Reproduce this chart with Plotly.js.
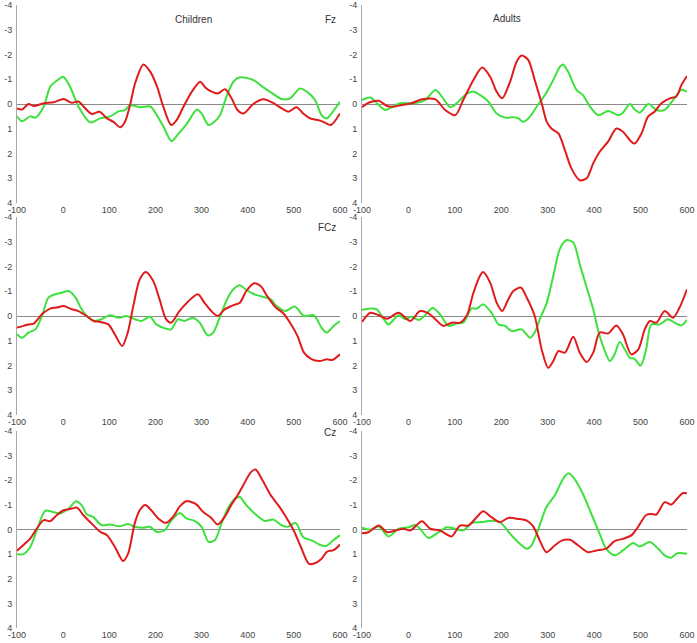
<!DOCTYPE html>
<html>
<head>
<meta charset="utf-8">
<script src="https://cdn.plot.ly/plotly-3.0.1.min.js"></script>
<style>
  html, body { margin: 0; padding: 0; background: #fff; }
  #plotDiv { width: 697px; height: 643px; }
</style>
</head>
<body>
<div id="plotDiv"></div>
<script>
// time axis (ms) and amplitude ticks
var xTickVals = [-100, 0, 100, 200, 300, 400, 500, 600];
var yTickVals = [-4, -3, -2, -1, 0, 1, 2, 3, 4];
var groupNames = ['Children', 'Adults'];
var channelNames = ['Fz', 'FCz', 'Cz'];

// Children Fz
var childFzGreenT = [-100, -89, -71, -60, -42, -28, -13, 0, 15, 33, 59, 80, 102, 120, 134, 145, 167, 189, 203, 217, 235, 250, 268, 290, 300, 315, 329, 340, 354, 369, 383, 412, 434, 456, 474, 492, 513, 528, 546, 560, 571, 585, 600];
var childFzGreenV = [0.5, 0.7, 0.5, 0.55, 0.1, -0.7, -0.95, -1.1, -0.7, 0.1, 0.75, 0.58, 0.5, 0.3, 0.25, 0.05, 0.13, 0.1, 0.45, 0.9, 1.5, 1.2, 0.8, 0.22, 0.38, 0.85, 0.7, 0.45, -0.3, -0.9, -1.08, -0.97, -0.67, -0.4, -0.2, -0.23, -0.63, -0.5, -0.16, 0.45, 0.58, 0.3, -0.1];
var childFzRedT = [-100, -89, -75, -64, -42, -21, 1, 19, 33, 48, 62, 79, 95, 109, 124, 134, 145, 156, 174, 189, 203, 217, 234, 246, 261, 279, 297, 308, 322, 336, 351, 365, 378, 391, 412, 434, 456, 474, 488, 506, 520, 535, 557, 567, 580, 600];
var childFzRedV = [0.18, 0.22, 0.0, 0.08, -0.03, -0.07, -0.2, -0.05, -0.1, 0.18, 0.4, 0.31, 0.58, 0.72, 0.94, 0.72, 0.04, -0.84, -1.6, -1.3, -0.73, 0.1, 0.85, 0.65, 0.1, -0.5, -0.9, -0.67, -0.5, -0.43, -0.6, -0.23, 0.24, 0.38, 0, -0.19, -0.03, 0.18, 0.31, 0.13, 0.38, 0.58, 0.67, 0.75, 0.85, 0.38];

// Adults Fz
var adultFzGreenT = [-100, -82, -68, -50, -36, -18, 0, 18, 36, 58, 72, 90, 104, 122, 140, 158, 172, 190, 208, 226, 237, 247, 262, 276, 294, 312, 326, 333, 344, 362, 376, 391, 409, 430, 452, 462, 477, 487, 498, 517, 534, 552, 570, 588, 600];
var adultFzGreenV = [-0.16, -0.26, -0.03, 0.24, 0.13, -0.03, -0.03, -0.05, -0.16, -0.57, -0.3, 0.13, -0.03, -0.36, -0.5, -0.32, -0.1, 0.38, 0.55, 0.54, 0.58, 0.72, 0.51, 0.11, -0.36, -0.97, -1.5, -1.6, -1.3, -0.57, -0.36, 0.11, 0.45, 0.28, 0.45, 0.35, 0, 0.22, 0.35, 0, 0.24, 0.24, -0.16, -0.57, -0.5];
var adultFzRedT = [-100, -86, -64, -46, -32, -14, 7, 29, 58, 79, 101, 118, 140, 159, 176, 190, 202, 219, 233, 244, 258, 272, 287, 298, 308, 323, 337, 351, 369, 384, 398, 412, 430, 448, 462, 480, 487, 502, 516, 530, 545, 563, 577, 588, 600];
var adultFzRedV = [0.13, -0.05, -0.13, 0.08, 0.11, 0.04, -0.03, -0.19, -0.19, 0.24, 0.45, -0.16, -0.97, -1.47, -1.1, -0.5, -0.23, -0.9, -1.71, -1.96, -1.78, -0.97, -0.03, 0.72, 0.99, 1.19, 1.86, 2.6, 3.08, 3.0, 2.4, 1.93, 1.52, 0.99, 1.12, 1.52, 1.6, 1.19, 0.51, 0.31, -0.03, -0.23, -0.3, -0.77, -1.13];

// Children FCz
var childFCzGreenT = [-100, -89, -75, -60, -46, -32, -17, -3, 12, 27, 40, 55, 69, 83, 101, 120, 137, 155, 170, 188, 202, 223, 234, 249, 263, 281, 296, 313, 324, 338, 355, 369, 383, 395, 414, 432, 450, 463, 481, 502, 522, 543, 560, 571, 586, 600];
var childFCzGreenV = [0.74, 0.88, 0.67, 0.54, 0, -0.74, -0.88, -0.94, -1.01, -0.74, -0.27, 0.07, 0.2, 0.13, -0.03, 0.07, 0, 0.13, 0.2, 0.03, 0.34, 0.51, 0.54, 0.13, 0.2, 0.07, 0.27, 0.78, 0.7, 0.13, -0.67, -1.08, -1.24, -1.08, -0.88, -0.78, -0.67, -0.4, -0.2, -0.38, 0, -0.03, 0.47, 0.67, 0.4, 0.2];
var childFCzRedT = [-100, -86, -75, -64, -46, -28, -14, 1, 19, 33, 51, 66, 80, 98, 112, 128, 140, 152, 166, 179, 195, 209, 223, 234, 252, 270, 292, 306, 321, 335, 350, 368, 383, 397, 414, 428, 443, 461, 476, 494, 508, 522, 537, 555, 572, 583, 600];
var childFCzRedV = [0.47, 0.4, 0.34, 0.31, -0.07, -0.3, -0.34, -0.4, -0.27, -0.2, 0, 0.2, 0.24, 0.34, 0.74, 1.21, 0.67, -0.4, -1.48, -1.78, -1.42, -0.67, 0.13, 0.27, -0.2, -0.57, -0.88, -0.54, -0.2, 0, -0.27, -0.43, -0.54, -1.01, -1.32, -1.21, -0.78, -0.34, -0.13, 0.34, 0.81, 1.48, 1.73, 1.82, 1.75, 1.78, 1.55];

// Adults FCz
var adultFCzGreenT = [-100, -82, -68, -53, -43, -21, -7, 7, 22, 36, 52, 68, 86, 104, 118, 136, 147, 161, 179, 194, 208, 222, 244, 262, 272, 283, 298, 312, 326, 340, 355, 369, 384, 398, 409, 419, 434, 444, 455, 466, 477, 487, 500, 512, 523, 541, 559, 577, 588, 600];
var adultFCzGreenV = [-0.24, -0.3, -0.27, 0.13, 0.34, -0.03, 0.13, 0.03, 0.16, -0.03, -0.32, -0.07, 0.4, 0.3, 0.27, -0.3, -0.3, -0.47, -0.13, 0.34, 0.4, 0.61, 0.54, 0.88, 0.67, 0.13, -0.54, -1.62, -2.7, -3.06, -2.97, -2.09, -1.15, -0.27, 0.61, 1.21, 1.82, 1.55, 1.05, 1.35, 1.69, 1.73, 2.0, 1.35, 0.34, 0.34, 0.13, 0.31, 0.38, 0.16];
var adultFCzRedT = [-100, -82, -64, -46, -21, 4, 25, 43, 58, 75, 93, 111, 126, 140, 154, 161, 176, 190, 202, 215, 226, 242, 255, 272, 287, 301, 312, 323, 337, 355, 369, 384, 398, 412, 430, 448, 462, 480, 495, 509, 520, 534, 552, 570, 584, 600];
var adultFCzRedV = [0.24, -0.13, -0.03, 0.11, -0.13, 0.2, -0.2, -0.11, 0.13, 0.4, 0.27, 0.27, -0.03, -0.94, -1.62, -1.78, -1.35, -0.54, -0.2, -0.67, -1.01, -1.15, -0.74, 0, 1.35, 2.09, 1.82, 1.42, 1.48, 0.84, 1.48, 1.86, 1.48, 0.67, 0.7, 0.38, 0.74, 1.55, 1.35, 0.54, 0.2, 0.27, -0.2, 0.07, -0.34, -1.08];

// Children Cz
var childCzGreenT = [-100, -86, -71, -57, -39, -24, -6, 12, 28, 40, 51, 65, 83, 101, 123, 141, 155, 173, 188, 202, 220, 235, 253, 267, 285, 300, 315, 329, 343, 357, 372, 383, 397, 415, 436, 456, 473, 487, 504, 520, 541, 555, 570, 584, 600];
var childCzGreenV = [1.0, 1.0, 0.7, 0.03, -0.76, -0.72, -0.65, -0.85, -1.15, -0.99, -0.62, -0.51, -0.18, -0.2, -0.13, -0.22, -0.11, -0.07, -0.11, 0.09, 0.03, -0.38, -0.67, -0.45, -0.35, -0.11, 0.5, 0.43, -0.24, -0.85, -1.25, -1.32, -0.99, -0.65, -0.35, -0.4, -0.18, -0.11, -0.27, 0.3, 0.46, 0.61, 0.67, 0.46, 0.23];
var childCzRedT = [-100, -86, -71, -57, -42, -28, -14, 1, 19, 30, 44, 62, 80, 95, 112, 130, 141, 155, 166, 178, 191, 206, 223, 238, 253, 267, 288, 303, 321, 335, 350, 364, 378, 392, 407, 417, 432, 450, 468, 483, 501, 515, 533, 544, 559, 572, 586, 600];
var childCzRedV = [0.86, 0.63, 0.36, -0.04, -0.38, -0.34, -0.58, -0.78, -0.85, -0.89, -0.58, -0.24, 0.09, 0.23, 0.7, 1.28, 0.97, -0.24, -0.78, -0.99, -0.78, -0.45, -0.27, -0.51, -0.94, -1.15, -1.03, -0.72, -0.47, -0.2, -0.51, -0.99, -1.39, -1.86, -2.33, -2.44, -2.0, -1.39, -0.94, -0.51, 0.09, 0.7, 1.4, 1.38, 1.21, 0.9, 0.84, 0.61];

// Adults Cz
var adultCzGreenT = [-100, -82, -64, -43, -21, 0, 15, 25, 43, 65, 83, 101, 118, 136, 158, 179, 197, 208, 222, 240, 255, 265, 280, 297, 315, 333, 344, 358, 376, 394, 412, 426, 444, 462, 484, 498, 520, 538, 552, 565, 580, 600];
var adultCzGreenV = [-0.07, 0.01, -0.12, 0.28, -0.03, -0.09, -0.18, -0.03, 0.34, 0.11, -0.09, -0.03, 0.04, -0.26, -0.3, -0.36, -0.3, -0.09, 0.24, 0.58, 0.78, 0.65, -0.03, -0.9, -1.38, -2.05, -2.28, -2.05, -1.44, -0.63, 0.18, 0.78, 1.05, 0.85, 0.55, 0.69, 0.51, 0.78, 1.05, 1.15, 0.96, 0.99];
var adultCzRedT = [-100, -86, -64, -46, -28, -10, 4, 29, 47, 68, 93, 111, 129, 147, 161, 179, 197, 215, 237, 255, 269, 283, 297, 315, 330, 348, 366, 387, 405, 426, 444, 462, 480, 494, 512, 523, 534, 552, 566, 580, 591, 600];
var adultCzRedV = [0.15, 0.11, -0.16, 0.11, 0.04, -0.03, 0.04, -0.34, -0.03, 0.04, 0.28, -0.16, -0.16, -0.5, -0.74, -0.5, -0.3, -0.47, -0.43, -0.36, -0.12, 0.45, 0.92, 0.65, 0.45, 0.42, 0.65, 0.92, 0.85, 0.78, 0.47, 0.38, 0.24, -0.09, -0.59, -0.63, -0.61, -1.11, -1.01, -1.28, -1.48, -1.47];

var panels = [
    {t: [childFzGreenT, childFzRedT], v: [childFzGreenV, childFzRedV]},
    {t: [adultFzGreenT, adultFzRedT], v: [adultFzGreenV, adultFzRedV]},
    {t: [childFCzGreenT, childFCzRedT], v: [childFCzGreenV, childFCzRedV]},
    {t: [adultFCzGreenT, adultFCzRedT], v: [adultFCzGreenV, adultFCzRedV]},
    {t: [childCzGreenT, childCzRedT], v: [childCzGreenV, childCzRedV]},
    {t: [adultCzGreenT, adultCzRedT], v: [adultCzGreenV, adultCzRedV]}
];

var lineColors = ['#3ee03e', '#e01b1b'];

window.onload = function () {
    initializePlotDiv();
};

function initializePlotDiv() {
    var plotDiv = document.getElementById('plotDiv');
    var W = 697, H = 643;
    // pixel boxes of the plot areas
    var colPx = [[17, 340], [362, 687]];
    var rowPx = [[5, 203], [217, 415], [431, 628]];

    var plotData = [];
    var layoutOpt = {
        width: W,
        height: H,
        margin: {l: 0, r: 0, t: 0, b: 0},
        paper_bgcolor: '#ffffff',
        plot_bgcolor: '#ffffff',
        showlegend: false,
        font: {family: 'Liberation Sans, Arial, sans-serif', size: 9, color: '#444444'},
        annotations: []
    };

    var yTickText = yTickVals.map(function (v) { return String(v); });
    var xTickText = xTickVals.map(function (v) { return String(v); });

    for (var i = 0; i < panels.length; i++) {
        var row = Math.floor(i / 2);
        var col = i % 2;
        var n = i + 1;
        var xa = 'x' + (n === 1 ? '' : n);
        var ya = 'y' + (n === 1 ? '' : n);
        for (var s = 0; s < 2; s++) {
            plotData.push({
                x: panels[i].t[s],
                y: panels[i].v[s],
                xaxis: xa,
                yaxis: ya,
                mode: 'lines',
                type: 'scatter',
                line: {color: lineColors[s], width: 2, shape: 'spline', smoothing: 0.8},
                hoverinfo: 'skip'
            });
        }
        layoutOpt['xaxis' + (n === 1 ? '' : n)] = {
            domain: [colPx[col][0] / W, colPx[col][1] / W],
            anchor: ya,
            range: [-100, 600],
            tickvals: xTickVals,
            ticktext: xTickText,
            showgrid: false,
            zeroline: false,
            showline: false,
            ticks: '',
            fixedrange: true
        };
        layoutOpt['yaxis' + (n === 1 ? '' : n)] = {
            domain: [1 - rowPx[row][1] / H, 1 - rowPx[row][0] / H],
            anchor: xa,
            range: [4, -4],
            tickvals: yTickVals,
            ticktext: yTickText,
            showgrid: false,
            zeroline: true,
            zerolinecolor: '#8a8a8a',
            zerolinewidth: 1,
            showline: true,
            linecolor: '#a8a8a8',
            linewidth: 1,
            ticks: '',
            ticklabelstandoff: 2,
            fixedrange: true
        };
    }

    // group titles and channel names
    layoutOpt.annotations.push({xref: 'paper', yref: 'paper', x: 173 / W, y: 1 - 12 / H, text: groupNames[0], showarrow: false, font: {size: 10, color: '#333'}});
    layoutOpt.annotations.push({xref: 'paper', yref: 'paper', x: 523 / W, y: 1 - 11 / H, text: groupNames[1], showarrow: false, font: {size: 10, color: '#333'}});
    var chanY = [12, 227, 440];
    for (var c = 0; c < channelNames.length; c++) {
        layoutOpt.annotations.push({xref: 'paper', yref: 'paper', x: 338 / W, y: 1 - chanY[c] / H, xanchor: 'right', text: channelNames[c], showarrow: false, font: {size: 10, color: '#333'}});
    }

    Plotly.newPlot(plotDiv, plotData, layoutOpt, {staticPlot: true});
}
</script>
</body>
</html>
